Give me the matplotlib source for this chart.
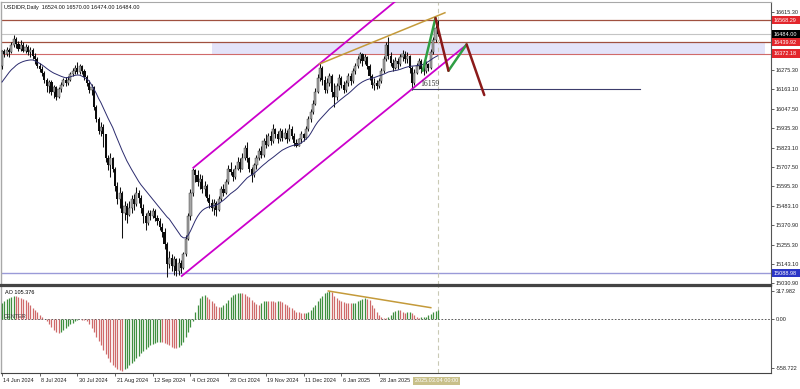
import matplotlib
matplotlib.use('Agg')
import matplotlib.pyplot as plt
import matplotlib.transforms as mtransforms
from matplotlib.patches import Rectangle
import numpy as np

# ---------------- data ----------------
title_text = "USDIDR,Daily  16524.00 16570.00 16474.00 16484.00"
first_open = 16300

closes = [
16385,16370,16395,16380,16420,16455,16430,16400,16425,16390,16410,16380,16395,16360,16340,
16300,16285,16260,16215,16180,16205,16150,16175,16120,
16165,16190,16215,16200,16220,16255,16270,16290,16265,16300,
16270,16235,16200,16160,16175,16060,15990,15920,
15945,15900,15760,15720,15760,15700,15600,15520,15560,15440,15480,
15430,15470,15520,15490,15560,15530,15470,
15420,15380,15440,15420,15450,15410,15395,15360,15330,
15260,15140,15180,15130,15170,15100,15150,15120,15200,
15290,15420,15560,15690,
15660,15620,15640,15580,15600,15530,15500,15470,15500,15460,
15520,15580,15560,15620,15700,15680,15650,15700,15740,15700,15760,15820,15760,
15700,15660,15720,15760,
15800,15780,15860,15840,15890,15860,15930,
15900,15870,15920,15880,15910,15870,15930,15890,15850,15830,
15870,15900,15880,15930,15990,16030,16080,16150,16230,16290,
16220,16160,16200,16240,16150,16120,
16180,16230,16190,16160,16200,16240,16210,16270,16300,16340,16370,16330,16350,
16300,16240,16190,16200,16180,16210,
16270,16340,16420,16360,
16320,16290,16330,16310,16350,16370,16340,16360,16290,
16200,16260,16300,16330,16280,16270,
16310,16290,16380,16450,16524,16484]

highs = [
16395,16400,16410,16405,16440,16481,16470,16445,16450,16440,16430,16420,16410,16405,16375,
16350,16320,16300,16270,16230,16220,16215,16190,16180,
16175,16205,16230,16235,16240,16265,16290,16305,16323,16310,
16305,16280,16245,16215,16195,16180,16070,16000,
15970,15960,15905,15780,15790,15770,15710,15620,15590,15570,15510,
15500,15510,15545,15550,15590,15575,15545,
15490,15440,15460,15460,15470,15465,15430,15410,15380,
15350,15270,15220,15200,15190,15175,15180,15165,15210,
15310,15440,15580,15703,
15700,15690,15670,15660,15630,15610,15550,15520,15520,15510,
15540,15600,15610,15640,15720,15740,15700,15720,15770,15760,15790,15840,15855,
15770,15710,15735,15780,
15820,15830,15880,15900,15910,15920,15960,
15940,15920,15935,15930,15940,15925,15960,15950,15910,15870,
15880,15920,15910,15950,16010,16050,16100,16170,16250,16317,
16300,16240,16230,16260,16250,16200,
16200,16250,16240,16210,16220,16260,16260,16290,16320,16360,16380,16375,16370,
16360,16310,16250,16230,16220,16230,
16290,16360,16440,16469,
16380,16340,16350,16345,16370,16393,16385,16380,16365,
16300,16280,16320,16345,16340,16300,
16330,16320,16400,16470,16540,16570]

lows = [
16280,16350,16360,16355,16375,16410,16405,16385,16390,16380,16375,16365,16350,16340,16310,
16290,16265,16240,16200,16150,16140,16130,16115,16100,
16110,16150,16180,16185,16190,16210,16240,16255,16250,16255,
16255,16220,16180,16140,16130,16040,15970,15900,
15890,15826,15740,15690,15650,15680,15570,15490,15470,15294,15400,
15380,15420,15440,15460,15480,15500,15440,
15380,15340,15370,15400,15410,15395,15370,15340,15300,
15230,15066,15120,15100,15080,15070,15076,15090,15110,
15190,15280,15400,15540,
15620,15600,15580,15560,15540,15510,15470,15450,15430,15420,
15450,15510,15540,15550,15610,15660,15630,15640,15690,15680,15700,15750,15740,
15680,15621,15650,15700,
15750,15760,15770,15820,15830,15840,15850,
15880,15850,15860,15860,15870,15850,15860,15870,15830,15826,
15830,15850,15860,15870,15920,15970,16020,16070,16140,16210,
16190,16140,16140,16180,16120,16060,
16100,16160,16170,16140,16150,16180,16190,16200,16250,16290,16320,16300,16310,
16280,16220,16170,16159,16165,16170,
16200,16260,16330,16340,
16300,16270,16280,16285,16300,16330,16320,16320,16260,
16159,16190,16250,16280,16260,16245,
16260,16270,16280,16370,16440,16474]

ma_values = [
16206,16225,16245,16262,16278,16290,16303,16313,16320,16326,16330,16333,16335,16335,16330,
16322,16315,16306,16296,16285,16275,16266,16258,16252,16246,16240,16235,16231,16232,16236,
16241,16245,16247,16246,16240,16232,16224,16212,16190,16165,16140,16110,16085,16055,16025,
15995,15968,15940,15905,15872,15838,15805,15775,15745,15720,15695,15672,15648,15625,15605,
15588,15572,15555,15538,15520,15503,15487,15470,15453,15436,15418,15405,15385,15365,15345,
15325,15305,15295,15295,15310,15335,15365,15395,15420,15440,15455,15465,15472,15477,15480,
15483,15487,15495,15505,15515,15527,15540,15553,15563,15573,15585,15600,15615,15630,15645,
15655,15663,15672,15684,15697,15710,15722,15733,15745,15755,15765,15776,15787,15798,15808,
15815,15822,15828,15833,15837,15840,15842,15850,15860,15872,15885,15905,15928,15952,15972,
15988,16003,16018,16033,16048,16060,16072,16083,16095,16106,16117,16128,16138,16150,16163,
16176,16188,16198,16207,16214,16220,16224,16228,16232,16237,16242,16246,16252,16258,16265,
16268,16271,16273,16276,16280,16285,16290,16294,16297,16299,16300,16302,16304,16306,16310,
16318,16326,16335,16345,16353,16360]

ao_values = [
179,200,224,240,255,262,262,252,240,228,215,190,165,130,103,
75,46,18,-5,-25,-55,-90,-125,-150,-163,-150,-130,-105,-85,-62,
-42,-25,-12,-5,-8,-15,-28,-60,-105,-150,-200,-250,-300,-350,-400,
-445,-485,-520,-550,-572,-583,-589,-575,-555,-530,-505,-478,-450,-420,-392,
-362,-337,-315,-298,-285,-272,-264,-258,-262,-275,-290,-302,-315,-328,-334,
-318,-296,-260,-205,-150,-95,-20,83,165,240,265,274,255,230,209,
180,150,133,140,160,185,215,255,275,287,293,294,292,285,265,
245,222,192,172,160,180,200,205,205,202,200,198,206,204,196,
175,155,135,120,98,85,76,70,67,70,80,105,135,165,205,
235,258,295,312,318,302,265,235,215,200,192,185,180,178,180,
186,205,218,226,234,230,215,165,120,75,45,18,10,8,22,
50,78,95,105,100,85,72,78,83,65,40,27,15,20,24,
28,45,58,75,95,105]

date_labels = ["14 Jun 2024", "8 Jul 2024", "30 Jul 2024", "21 Aug 2024", "12 Sep 2024",
               "4 Oct 2024", "28 Oct 2024", "19 Nov 2024", "11 Dec 2024", "6 Jan 2025",
               "28 Jan 2025"]
date_bars = [0, 16, 32, 48, 64, 80, 96, 112, 128, 144, 160]
cursor_label = "2025.03.04 00:00"
cursor_bar = 185

price_ticks = [16615.30, 16275.30, 16163.10, 16047.50, 15935.30,
               15823.10, 15707.50, 15595.30, 15483.10, 15370.90, 15255.30, 15143.10, 15030.90]
ao_ticks = [317.982, 0.0, -558.722]
ao_tick_labels = ["317.982", "0.00", "-558.722"]
ao_label = "AO 105.376"

levels_red = [16568.29, 16439.92, 16372.18]
level_current = 16484.00
level_blue = 15088.98
zone = (16372.18, 16439.92, 89.1, 323.9)

channel_lower = ([76.3, 196.5], [15072, 16416])
channel_upper = ([81.2, 172.0], [15705, 16735])
gold_line = ([134.7, 188.0], [16311, 16611])
ao_gold_line = ([138.5, 182.0], [319, 129])
zig_green = [([178.6, 184.0], [16272, 16580]), ([189.5, 197.2], [16272, 16426])]
zig_red = [([184.0, 189.5], [16580, 16272]), ([197.2, 204.7], [16426, 16130])]
low_level = 16163
low_level_bars = [174, 270.8]
low_text = "16159"

# ---------------- layout ----------------
W, H = 800, 389
fig = plt.figure(figsize=(8, 3.89), dpi=100)
fig.patch.set_facecolor('white')
FONT = 'Liberation Sans'
plt.rcParams['font.family'] = [FONT, 'DejaVu Sans']

def px_rect(x0, y0, x1, y1):
    return [x0 / W, 1 - y1 / H, (x1 - x0) / W, (y1 - y0) / H]

ax1 = fig.add_axes(px_rect(1, 2, 771, 285))
ax2 = fig.add_axes(px_rect(1, 286, 771, 373), sharex=ax1)

n = min(len(closes), len(highs), len(lows))
x = np.arange(n)
c = np.array(closes[:n], float)
o = np.array([first_open] + closes[:n - 1], float)
hi = np.array(highs[:n], float)
lo = np.array(lows[:n], float)

ax1.set_xlim(-0.42, 326.4)
ax1.set_ylim(15019.3, 16673.8)
ax2.set_ylim(-615.6, 376)

# zone
ax1.add_patch(Rectangle((zone[2], zone[0]), zone[3] - zone[2], zone[1] - zone[0],
                        facecolor='#e3e3f9', edgecolor='none', zorder=0.5))
# horizontal levels
ax1.axhline(levels_red[0], color='#a0503f', lw=0.9, zorder=1)
ax1.axhline(levels_red[1], color='#a0503f', lw=0.9, zorder=1)
ax1.axhline(levels_red[2], color='#d06a6a', lw=0.8, zorder=1)
ax1.axhline(level_current, color='#c4c4c4', lw=0.8, zorder=1)
ax1.axhline(level_blue, color='#9a9ad8', lw=1.0, zorder=1)

# candles
up = c >= o
ax1.vlines(x, lo, hi, color='#111111', lw=0.75, zorder=3)
bot = np.minimum(o, c)
hgt = np.maximum(np.abs(c - o), 5)
ax1.bar(x[up], hgt[up], bottom=bot[up], width=0.9, color='#a6a6a6',
        edgecolor='#2a2a2a', lw=0.3, zorder=4)
ax1.bar(x[~up], hgt[~up], bottom=bot[~up], width=0.9, color='#0c0c0c',
        edgecolor='none', zorder=4)

# moving average
ax1.plot(np.arange(len(ma_values)), ma_values, color='#2b2b6e', lw=0.7, zorder=5)

# channel & trendlines
ax1.plot(*channel_lower, color='#cc00cc', lw=1.3, zorder=6)
ax1.plot(*channel_upper, color='#cc00cc', lw=1.3, zorder=6)
ax1.plot(*gold_line, color='#c49a3a', lw=1.1, zorder=6)
for xs, ys in zig_green:
    ax1.plot(xs, ys, color='#2f9e44', lw=1.8, zorder=7, solid_capstyle='round')
for xs, ys in zig_red:
    ax1.plot(xs, ys, color='#8b1a1a', lw=1.8, zorder=7, solid_capstyle='round')
ax1.plot(low_level_bars, [low_level, low_level], color='#3c3c6c', lw=0.8, zorder=6)
ax1.text(177.4, 16196, low_text, fontsize=5.5, family='Liberation Serif',
         color='#303030', ha='left', va='center', zorder=8)

# cursor line
for a in (ax1, ax2):
    a.axvline(cursor_bar, color='#c9c9b5', lw=0.8, ls=(0, (4, 3)), zorder=2)

# AO
ao = np.array(ao_values, float)
xa = np.arange(len(ao))
prev = np.concatenate([[ao[0] - 1], ao[:-1]])
cols = np.where(ao > prev, '#3f8f3f', '#cf6a6a')
ax2.vlines(xa, 0, ao, colors=cols, lw=0.9, zorder=3)
ax2.axhline(0, color='#404040', lw=0.6, ls=(0, (2, 2)), zorder=2)
ax2.plot(*ao_gold_line, color='#c49a3a', lw=1.1, zorder=4)
ax2.text(4 / 770, 0.95, ao_label, transform=ax2.transAxes, fontsize=4,
         ha='left', va='top')
ax2.text(3 / 770, 0, "CENTER", transform=mtransforms.blended_transform_factory(ax2.transAxes, ax2.transData),
         fontsize=4, ha='left', va='bottom', color='#404040')

# axes styling
for a in (ax1, ax2):
    a.set_facecolor('white')
    a.yaxis.tick_right()
    a.tick_params(axis='y', direction='out', length=2.2, width=0.5, pad=1.2,
                  labelsize=4, colors='#222222')
    a.spines['right'].set_color('#555555')
    a.spines['right'].set_linewidth(0.8)
    a.spines['left'].set_color('#a8a8a8')
    a.spines['left'].set_linewidth(1.0)

ax1.spines['top'].set_color('#a8a8a8')
ax1.spines['top'].set_linewidth(0.8)
ax1.spines['bottom'].set_color('#444444')
ax1.spines['bottom'].set_linewidth(1.6)
ax2.spines['top'].set_color('#444444')
ax2.spines['top'].set_linewidth(1.6)
ax2.spines['bottom'].set_color('#444444')
ax2.spines['bottom'].set_linewidth(0.8)

ax1.set_yticks(price_ticks)
ax1.set_yticklabels([f"{v:.2f}" for v in price_ticks])
ax1.tick_params(axis='x', bottom=False, labelbottom=False)

ax2.set_yticks(ao_ticks)
ax2.set_yticklabels(ao_tick_labels)
ax2.set_xticks(date_bars)
ax2.set_xticklabels(date_labels, ha='left')
ax2.tick_params(axis='x', direction='out', length=2.2, width=0.5, pad=1.5,
                labelsize=4, colors='#222222')
off = mtransforms.ScaledTranslation(1.5 / 100, 0, fig.dpi_scale_trans)
for lab in ax2.get_xticklabels():
    lab.set_transform(lab.get_transform() + off)

# right-axis price labels
bt = mtransforms.blended_transform_factory(ax1.transAxes, ax1.transData)
ppx = (16673.8 - 15019.3) / 283.0
def price_box(val, fc):
    ax1.add_patch(Rectangle((1.0013, val - 4.2 * ppx), 29 / 770, 8.4 * ppx,
                            transform=bt, facecolor=fc, edgecolor='none',
                            clip_on=False, zorder=10))
    ax1.text(1.0013 + 2 / 770, val, f"{val:.2f}", transform=bt, fontsize=4,
             color='white', ha='left', va='center', clip_on=False, zorder=11)

price_box(levels_red[0], '#e3262c')
price_box(level_current, '#000000')
price_box(levels_red[1], '#e3262c')
price_box(levels_red[2], '#e3262c')
price_box(level_blue, '#2b35c6')

# header
fig.text(4 / W, 1 - 7 / H, title_text, fontsize=4, ha='left', va='center', color='#111111')

# cursor date label
cx = ax2.transData.transform((cursor_bar, 0))[0]
fig.text((cx - 23) / W, 1 - 381 / H, cursor_label, fontsize=4, ha='left', va='center',
         color='white', bbox=dict(facecolor='#c8c08a', edgecolor='none', pad=1.2))

fig.savefig('out.png', dpi=100, facecolor='white')
